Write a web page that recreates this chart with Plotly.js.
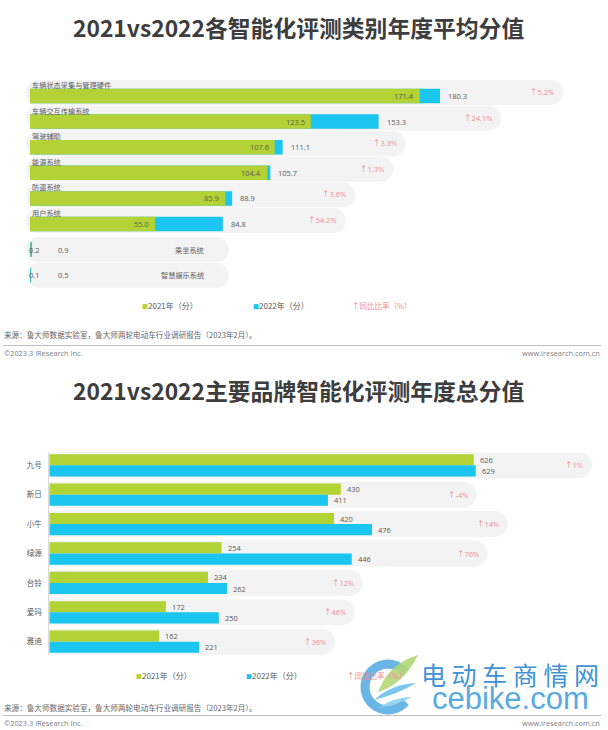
<!DOCTYPE html>
<html><head><meta charset="utf-8">
<script src="https://cdn.plot.ly/plotly-3.0.1.min.js"></script>
<style>html,body{margin:0;padding:0;background:#fff}#chart{width:608px;height:730px}</style>
</head><body><div id="chart"></div>
<script>
// ---------- data ----------
const categories = ["车辆状态采集与管理硬件","车辆交互传输系统","驾驶辅助","能源系统","防盗系统","用户系统","乘坐系统","智慧娱乐系统"];
const avg2021 = [171.4,123.5,107.6,104.4,85.9,55.0,0.2,0.1];
const avg2022 = [180.3,153.3,111.1,105.7,88.9,84.8,0.9,0.5];
const avgYoY = [5.2,24.1,3.3,1.3,3.6,54.2,null,null];

const brands = ["九号","新日","小牛","绿源","台铃","爱玛","雅迪"];
const total2021 = [626,430,420,254,234,172,162];
const total2022 = [629,411,476,446,262,250,221];
const totalYoY = [1,-4,14,76,12,46,36];

const legendLabels = ["2021年（分）","2022年（分）","↑同比比率（%）"];
const titles = ["2021vs2022各智能化评测类别年度平均分值","2021vs2022主要品牌智能化评测年度总分值"];
const sourceText = "来源：鲁大师数据实验室，鲁大师两轮电动车行业调研报告（2023年2月）。";
const copyText = "©2023.3 iResearch Inc.";
const siteText = "www.iresearch.com.cn";

// ---------- style / layout ----------
const W=608,H=730;
const GREEN="#b3d235", BLUE="#1ac5f0", PILL="#f3f3f3", TXT="#595959", PCT="#ee8c95";
const FONT="Open Sans, Noto Sans CJK SC, sans-serif";
const CJK="Noto Sans CJK SC, sans-serif";
const px=p=>p/W, py=p=>1-p/H;

const T={left:30,right:600,scale:2.274,c0:96,pitch:25.6};
const x1min=-3;
const x1dom=[(T.left+x1min*T.scale)/W, T.right/W];
const x1range=[x1min,(T.right-T.left)/T.scale];
const y1range=[categories.length-0.4,-0.6];
const y1dom=[py(T.c0+(categories.length-0.4)*T.pitch), py(T.c0-0.6*T.pitch)];

const B={left:49.3,right:600,scale:0.678,c0:465.3,pitch:29.4};
const x2dom=[B.left/W,B.right/W];
const x2range=[0,(B.right-B.left)/B.scale];
const y2range=[brands.length-0.55,-0.45];
const y2dom=[py(B.c0+(brands.length-0.55)*B.pitch), py(B.c0-0.45*B.pitch)];

function pillPath(L,R,topPx,botPx,scale){
  const r=(botPx-topPx)/2, rx=r/scale, k=0.5523;
  const yT=py(topPx), yB=py(botPx), yM=(yT+yB)/2, ry=r/H;
  return `M${L+rx},${yT} L${R-rx},${yT} C${R-rx+k*rx},${yT} ${R},${yM+k*ry} ${R},${yM} C${R},${yM-k*ry} ${R-rx+k*rx},${yB} ${R-rx},${yB} L${L+rx},${yB} C${L+rx-k*rx},${yB} ${L},${yM-k*ry} ${L},${yM} C${L},${yM+k*ry} ${L+rx-k*rx},${yT} ${L+rx},${yT} Z`;
}

const traces=[
  {type:'bar',orientation:'h',x:avg2022,y:categories,xaxis:'x',yaxis:'y',marker:{color:BLUE},width:0.566,hoverinfo:'skip',showlegend:false},
  {type:'bar',orientation:'h',x:avg2021,y:categories,xaxis:'x',yaxis:'y',marker:{color:GREEN},width:0.566,hoverinfo:'skip',showlegend:false},
  {type:'bar',orientation:'h',x:total2021,y:brands,xaxis:'x2',yaxis:'y2',marker:{color:GREEN},width:0.38,offset:-0.38,hoverinfo:'skip',showlegend:false},
  {type:'bar',orientation:'h',x:total2022,y:brands,xaxis:'x2',yaxis:'y2',marker:{color:BLUE},width:0.38,offset:0,hoverinfo:'skip',showlegend:false}
];

const shapes=[], ann=[];
const f=(s,c,fam)=>({size:s,color:c||TXT,family:fam||FONT});
const A=o=>ann.push(Object.assign({showarrow:false,xanchor:'center',yanchor:'middle'},o));

// top chart
categories.forEach((cat,i)=>{
  const c=T.c0+i*T.pitch;
  const hasPct=avgYoY[i]!==null;
  if(hasPct){
    const pctX=avg2022[i]+51;
    shapes.push({type:'path',xref:'x',yref:'paper',layer:'below',line:{width:0},fillcolor:PILL,
      path:pillPath(-4/T.scale,pctX+7/T.scale,c-16,c+9,T.scale)});
    A({xref:'x',yref:'y',x:0,y:cat,xanchor:'left',yshift:11,text:cat,font:f(7.2,TXT,CJK)});
    A({xref:'x',yref:'y',x:avg2021[i],y:cat,xanchor:'right',xshift:-4,text:avg2021[i].toFixed(1),font:f(7.5)});
    A({xref:'x',yref:'y',x:avg2022[i],y:cat,xanchor:'left',xshift:6,text:avg2022[i].toFixed(1),font:f(7.5)});
    A({xref:'x',yref:'y',x:pctX,y:cat,xanchor:'right',yshift:4,text:'↑'+avgYoY[i].toFixed(1)+'%',font:f(7.5,PCT)});
  } else {
    shapes.push({type:'path',xref:'x',yref:'paper',layer:'below',line:{width:0},fillcolor:PILL,
      path:pillPath(-4/T.scale,(229-T.left)/T.scale,c-12.5,c+12.5,T.scale)});
    A({xref:'x',yref:'y',x:(206-T.left)/T.scale,y:cat,xanchor:'right',text:cat,font:f(7.2,TXT,CJK)});
    A({xref:'x',yref:'y',x:0,y:cat,xanchor:'left',xshift:-3,text:avg2021[i].toFixed(1),font:f(7.5)});
    A({xref:'x',yref:'y',x:11.5,y:cat,xanchor:'left',text:avg2022[i].toFixed(1),font:f(7.5)});
  }
});

// bottom chart
brands.forEach((b,i)=>{
  const c=B.c0+i*B.pitch;
  const pctX=Math.min(Math.max(total2021[i],total2022[i])+190,790);
  shapes.push({type:'path',xref:'x2',yref:'paper',layer:'below',line:{width:0},fillcolor:PILL,
    path:pillPath(-13/B.scale,pctX+7/B.scale,c-13,c+13,B.scale)});
  A({xref:'x2',yref:'y2',x:total2021[i],y:b,xanchor:'left',xshift:4,yshift:5.6,text:String(total2021[i]),font:f(7.5)});
  A({xref:'x2',yref:'y2',x:total2022[i],y:b,xanchor:'left',xshift:4,yshift:-5.6,text:String(total2022[i]),font:f(7.5)});
  A({xref:'x2',yref:'y2',x:pctX,y:b,xanchor:'right',text:'↑'+totalYoY[i]+'%',font:f(7.5,PCT)});
});

// titles
[[28,titles[0]],[390,titles[1]]].forEach(([y,t])=>{
  A({xref:'paper',yref:'paper',x:px(298),y:py(y),text:'<b>'+t+'</b>',font:{size:22.8,color:'#3d3d3d',family:CJK}});
});

// legends
function legend(yPx,xs){
  A({xref:'paper',yref:'paper',x:px(xs[0]),y:py(yPx),xanchor:'left',
    text:`<span style="color:${GREEN};font-size:6px">■</span>`+legendLabels[0],font:f(8,TXT,CJK)});
  A({xref:'paper',yref:'paper',x:px(xs[1]),y:py(yPx),xanchor:'left',
    text:`<span style="color:${BLUE};font-size:6px">■</span>`+legendLabels[1],font:f(8,TXT,CJK)});
  A({xref:'paper',yref:'paper',x:px(xs[2]),y:py(yPx),xanchor:'left',
    text:legendLabels[2],font:f(7.5,PCT,CJK)});
}
legend(305.7,[140,251,350]);
legend(675,[134,244,345]);

// footers
function footer(srcY,lineY,copyY){
  A({xref:'paper',yref:'paper',x:px(2),y:py(srcY),xanchor:'left',text:sourceText,font:f(7.6,'#666666',CJK)});
  shapes.push({type:'line',xref:'paper',yref:'paper',x0:px(3),x1:px(601),y0:py(lineY),y1:py(lineY),line:{color:'#bdbdbd',width:1}});
  A({xref:'paper',yref:'paper',x:px(2),y:py(copyY),xanchor:'left',text:copyText,font:f(7.4,'#7f7f7f')});
  A({xref:'paper',yref:'paper',x:px(602),y:py(copyY),xanchor:'right',text:siteText,font:f(7.4,'#7f7f7f')});
}
footer(334,345.5,352.5);
footer(707,715.5,723);

// watermark (decorative)
(function(){
  const cx=388,cy=687,r=23;let d='';
  for(let a=40;a<=320;a+=10){const t=a*Math.PI/180;const X=px(cx+r*Math.cos(t)),Y=py(cy-r*Math.sin(t));d+=(d?' L':'M')+X+','+Y;}
  shapes.push({type:'path',xref:'paper',yref:'paper',path:d,line:{color:'#4fa9e2',width:9},opacity:0.85});
  const P=(x,y)=>px(x)+','+py(y);
  shapes.push({type:'path',xref:'paper',yref:'paper',line:{width:0},fillcolor:'#b4d77a',opacity:0.9,
    path:`M${P(378,692)} Q${P(388,664)} ${P(418,655)} Q${P(404,684)} ${P(378,692)} Z`});
  shapes.push({type:'path',xref:'paper',yref:'paper',line:{width:0},fillcolor:'#6cc0ec',opacity:0.9,
    path:`M${P(374,700)} Q${P(392,684)} ${P(416,683)} Q${P(398,694)} ${P(374,700)} Z`});
  shapes.push({type:'path',xref:'paper',yref:'paper',line:{width:0},fillcolor:'#8fd0f0',opacity:0.9,
    path:`M${P(378,708)} Q${P(394,697)} ${P(412,697)} Q${P(398,705)} ${P(378,708)} Z`});
  A({xref:'paper',yref:'paper',x:px(510),y:py(674),text:'电 动 车 商 情 网',font:{size:25,color:'#3f93d6',family:CJK}});
  A({xref:'paper',yref:'paper',x:px(510),y:py(698),text:'cebike.com',font:{size:31,color:'#5aaae2',family:'Liberation Sans, Arial, sans-serif'}});
})();

const layout={
  width:W,height:H,autosize:false,margin:{l:0,r:0,t:0,b:0},
  paper_bgcolor:'#ffffff',plot_bgcolor:'rgba(0,0,0,0)',
  barmode:'overlay',showlegend:false,font:{family:FONT,color:TXT},
  xaxis:{domain:x1dom,range:x1range,visible:false,fixedrange:true,anchor:'y'},
  yaxis:{domain:y1dom,range:y1range,type:'category',categoryarray:categories,categoryorder:'array',
    showticklabels:false,showgrid:false,zeroline:false,showline:false,ticks:'',anchor:'x',fixedrange:true},
  xaxis2:{domain:x2dom,range:x2range,visible:false,fixedrange:true,anchor:'y2'},
  yaxis2:{domain:y2dom,range:y2range,type:'category',categoryarray:brands,categoryorder:'array',
    showgrid:false,zeroline:false,showline:true,linecolor:'#d9d9d9',linewidth:1,ticks:'',ticklabelstandoff:5,
    tickfont:{size:7.5,color:TXT,family:CJK},anchor:'x2',fixedrange:true},
  shapes:shapes,annotations:ann
};
Plotly.newPlot('chart',traces,layout,{staticPlot:true,displayModeBar:false});
</script></body></html>
